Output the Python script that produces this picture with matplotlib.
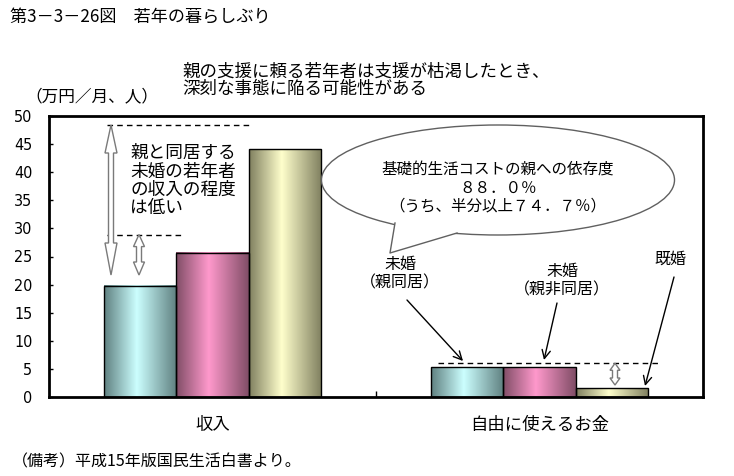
import matplotlib
matplotlib.use("Agg")
import matplotlib.pyplot as plt
import matplotlib.transforms as mtransforms
from matplotlib.patches import Ellipse, Polygon
from matplotlib.lines import Line2D
from matplotlib.patches import FancyArrowPatch
from matplotlib.colors import LinearSegmentedColormap
import numpy as np

plt.rcParams['font.family'] = ['Noto Sans CJK JP', 'DejaVu Sans']

# ---------------- data ----------------
categories = ["収入", "自由に使えるお金"]
series_names = ["未婚（親同居）", "未婚（親非同居）", "既婚"]
unmarried_with_parents = [19.8, 5.3]
unmarried_living_apart = [25.7, 5.3]
married = [44.1, 1.6]
yticks = [0, 5, 10, 15, 20, 25, 30, 35, 40, 45, 50]

series = [unmarried_with_parents, unmarried_living_apart, married]
light_cols = ["#CCFFFF", "#FF99CC", "#FFFFCC"]
dark_cols = ["#5F8080", "#804D66", "#7F7F5F"]

W, H = 734, 476
fig = plt.figure(figsize=(W / 100, H / 100), dpi=100)
fig.patch.set_facecolor("white")

# axes placed by pixel box
ax_l, ax_r, ax_t, ax_b = 49, 703, 116, 397
ax = fig.add_axes([ax_l / W, 1 - ax_b / H, (ax_r - ax_l) / W, (ax_b - ax_t) / H])

x = np.arange(len(categories))
bw = 0.222
for i, vals in enumerate(series):
    pos = x + (i - 1) * bw
    bars = ax.bar(pos, vals, width=bw, facecolor="none", edgecolor="black",
                  linewidth=1.0, zorder=3)
    cmap = LinearSegmentedColormap.from_list(
        f"g{i}", [(0, dark_cols[i]), (0.45, light_cols[i]), (1, dark_cols[i])])
    grad = np.linspace(0, 1, 256).reshape(1, -1)
    for b in bars:
        x0, y0 = b.get_x(), b.get_y()
        ax.imshow(grad, cmap=cmap, extent=[x0, x0 + b.get_width(), y0, y0 + b.get_height()],
                  aspect="auto", interpolation="bilinear", zorder=2)

ax.set_xlim(-0.5, 1.5)
ax.set_ylim(0, 50)
ax.set_yticks(yticks)
ax.set_yticklabels([str(v) for v in yticks], fontsize=11.5, family=['DejaVu Sans'],
                   fontstretch='condensed')
ax.tick_params(axis="y", direction="in", length=3, width=1, pad=12)
ax.set_xticks(x)
ax.set_xticklabels(categories, fontsize=12.5)
ax.tick_params(axis="x", which="major", length=0, pad=14)
ax.set_xticks([0.5], minor=True)
ax.tick_params(axis="x", which="minor", direction="in", length=4, width=1)
for s in ax.spines.values():
    s.set_linewidth(2.0)
    s.set_color("black")

# pixel transform (origin top-left)
pix = mtransforms.Affine2D().scale(1, -1).translate(0, H)


def px2x(px):
    return -0.5 + (px - ax_l) / (ax_r - ax_l) * 2.0


def y2px(v):
    return ax_b - v / 50 * (ax_b - ax_t)


# dashed reference lines (data y)
for (xa, xb, yv) in [(107, 252, 48.4), (107, 182, 28.9), (438, 658, 6.0)]:
    ax.plot([px2x(xa), px2x(xb)], [yv, yv], color="black", lw=1.0,
            linestyle=(0, (4, 3)), zorder=4, clip_on=False)


def hollow_double_arrow(xc, yt, yb, shaft_w, head_w, hl_top, hl_bot, ec="#7a7a7a"):
    s, h = shaft_w / 2, head_w / 2
    pts = [(xc, yt), (xc + h, yt + hl_top), (xc + s, yt + hl_top), (xc + s, yb - hl_bot),
           (xc + h, yb - hl_bot), (xc, yb), (xc - h, yb - hl_bot), (xc - s, yb - hl_bot),
           (xc - s, yt + hl_top), (xc - h, yt + hl_top)]
    fig.patches.append(Polygon(pts, closed=True, facecolor="white", edgecolor=ec,
                               linewidth=1.0, transform=pix, figure=fig, zorder=6))


hollow_double_arrow(111, y2px(48.4), 275, 5, 12, 28, 32)
hollow_double_arrow(139, y2px(28.9), 275, 5, 11, 12, 13)
hollow_double_arrow(615, y2px(6.0), 385, 5, 10, 7, 7)

# callout ellipse
ell = Ellipse((498, 180), 353, 110, facecolor="white", edgecolor="#606060",
              linewidth=1.0, transform=pix, zorder=5)
fig.patches.append(ell)
ell.set_figure(fig)
tail_fill = Polygon([(395, 216), (395, 223), (390, 253), (457, 233), (457, 226)],
                    closed=True, facecolor="white", edgecolor="none",
                    transform=pix, zorder=6, figure=fig)
fig.patches.append(tail_fill)
fig.lines.append(Line2D([395, 390, 457], [223, 253, 233], color="#606060", lw=1.0,
                        transform=pix, zorder=7, figure=fig))

# texts
def ptext(px, py, s, size, ha="left", va="center", **kw):
    fig.text(px / W, 1 - py / H, s, fontsize=size, ha=ha, va=va, **kw)


ptext(10, 18, "第3－3－26図　若年の暮らしぶり", 12.3)
ptext(182, 72, "親の支援に頼る若年者は支援が枯渇したとき、", 12.6)
ptext(182, 89, "深刻な事態に陥る可能性がある", 12.6)
ptext(25, 97, "（万円／月、人）", 12)
ptext(12, 462, "（備考）平成15年版国民生活白書より。", 11.5)

for i, line in enumerate(["親と同居する", "未婚の若年者", "の収入の程度", "は低い"]):
    ptext(130, 153 + i * 18.5, line, 12.7, zorder=8)

for i, line in enumerate(["基礎的生活コストの親への依存度", "８８．０％", "（うち、半分以上７４．７％）"]):
    ptext(498, 170 + i * 18, line, 11.2, ha="center", zorder=8)

ptext(400, 264, "未婚", 11.5, ha="center")
ptext(400, 283, "（親同居）", 11.5, ha="center")
ptext(562, 271, "未婚", 11.5, ha="center")
ptext(562, 290, "（親非同居）", 11.5, ha="center")
ptext(670, 259, "既婚", 11.5, ha="center")

for (a, b) in [((407, 300), (463, 361)), ((557, 303), (544, 360)), ((674, 277), (645, 386))]:
    fig.patches.append(FancyArrowPatch(a, b, arrowstyle="->,head_length=6,head_width=3",
                                       color="black", lw=1.0, transform=pix, figure=fig,
                                       zorder=7, shrinkA=0, shrinkB=0))

fig.savefig("out.png", dpi=100)
